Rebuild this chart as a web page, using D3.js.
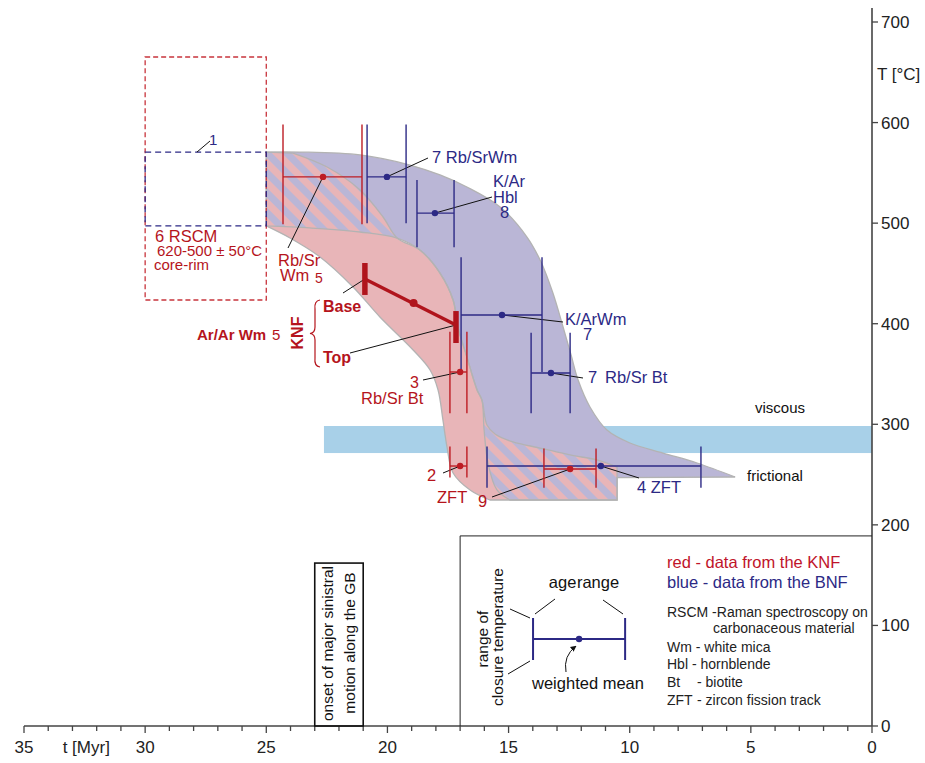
<!DOCTYPE html>
<html><head><meta charset="utf-8">
<script src="https://cdn.jsdelivr.net/npm/d3@7"></script>
<style>html,body{margin:0;padding:0;background:#fff}</style>
</head><body>
<svg id="chart" width="925" height="763"></svg>
<script>
// ---------------- DATA (t in Myr, T in °C) ----------------
const xMajorTicks = [35, 30, 25, 20, 15, 10, 5, 0];
const xMinorTicks = d3.range(0, 36, 1);
const yTicks = [0, 100, 200, 300, 400, 500, 600, 700];

// BNF cooling envelope: upper edge, foot, inner edge  [t, T]
const bnfTop = [
  [25.0,570.7],[23.61,570.7],[21.13,567.8],[19.07,557.8],[17.83,547.9],[16.72,535.9],
  [15.35,516.1],[14.24,486.2],[13.66,461.4],[13.17,430.5],[12.75,396.7],[12.42,368.9],
  [12.13,344.0],[11.64,317.2],[10.94,294.3],[9.99,281.4],[8.63,271.4],[7.22,261.5],[5.65,247.6]
];
const bnfFoot = [[5.65,247.6],[10.52,247.0],[10.52,224.7],[14.94,224.7]];
const bnfInner = [
  [14.94,224.7],[15.48,234.7],[15.85,261.5],[16.01,294.3],[16.10,324.1],[16.30,334.1],
  [16.72,366.9],[17.09,396.7],[17.29,423.6],[17.83,450.4],[18.66,473.3],[19.60,485.2],
  [21.13,491.2],[23.20,495.2],[25.0,497.2]
];
// KNF cooling envelope: right edge, foot, outer edge  [t, T]
const knfRight = [
  [23.90,569.7],[22.49,555.8],[21.13,533.0],[20.18,506.1],[19.60,485.2],
  [18.66,473.3],[17.83,450.4],[17.29,423.6],[17.09,396.7],[16.72,366.9],[16.30,334.1],
  [16.10,324.1],[15.89,299.3],[15.56,290.3],[14.82,282.4],[13.70,276.4],[12.46,269.5],
  [11.35,264.5],[10.52,257.5]
];
const knfFoot = [[10.52,257.5],[10.52,224.7],[15.77,224.7]];
const knfOuter = [
  [15.77,224.7],[16.59,234.7],[17.29,251.6],[17.54,277.4],[17.71,304.3],[17.91,334.1],
  [18.24,354.0],[18.94,373.9],[20.31,406.7],[21.42,436.5],[22.78,466.3],[24.02,485.2],[25.0,497.2]
];
const bandLeft = [[25.0,497.2],[25.0,570.7]];

// KNF (red) age / closure-temperature ranges
const knfBars = [
  {id:"RbSrWm5", ageMin:21.05, ageMax:24.31, age:22.66, tMin:499, tMax:598, temp:546},
  {id:"RbSrBt3", ageMin:16.72, ageMax:17.42, age:17.00, tMin:311, tMax:392, temp:352},
  {id:"ZFT2",    ageMin:16.72, ageMax:17.42, age:17.00, tMin:247, tMax:278, temp:258.5},
  {id:"ZFT9",    ageMin:11.39, ageMax:13.54, age:12.46, tMin:237, tMax:276, temp:255.5}
];
// BNF (blue) age / closure-temperature ranges
const bnfBars = [
  {id:"RbSrWm7", ageMin:19.23, ageMax:20.84, age:20.02, tMin:500, tMax:598, temp:546},
  {id:"KArHbl8", ageMin:17.25, ageMax:18.78, age:18.04, tMin:476, tMax:543, temp:510},
  {id:"KArWm7",  ageMin:13.62, ageMax:16.96, age:15.27, tMin:352, tMax:466, temp:408.7},
  {id:"RbSrBt7", ageMin:12.46, ageMax:14.07, age:13.25, tMin:311, tMax:391, temp:351},
  {id:"ZFT4",    ageMin:7.06,  ageMax:15.89, age:11.19, tMin:237, tMax:278, temp:258.5}
];
// Ar/Ar white mica of the KNF: base and top of the footwall
const arArBase = {age:20.93, tMin:428.6, tMax:460.4, temp:444.5};
const arArTop  = {age:17.17, tMin:380.8, tMax:412.6, temp:398.7};
const arArMean = {age:18.92, temp:420.6};

// RSCM (red dashed) and sample 1 (blue dashed)
const rscmBox = {ageMin:25, ageMax:30, tMin:423.6, tMax:665.2};
const sample1Box = {ageMin:25, ageMax:30, tMin:497.2, tMax:570.7};
// viscous / frictional transition
const transition = {ageMin:0, ageMax:22.62, tMin:271.4, tMax:298.3};
// onset of major sinistral motion along the GB
const onsetBox = {ageMin:21.0, ageMax:23.0, tMin:0, tMax:162};
// legend frame
const legendFrame = {age:17.0, temp:189};
const legendBar = {ageMin:10.19, ageMax:13.99, age:12.09, tMin:65.6, tMax:107.4, temp:86.5};

// ---------------- DRAWING ----------------
const RED = "#bd1c24", RED_T = "#b5141c", NAVY = "#2c2985", PINK = "#e8b5b8", LAV = "#bab6d6";
const FONT = "'Liberation Sans', Arial, Helvetica, sans-serif";
const svg = d3.select("#chart").style("font-family", FONT);
const x = d3.scaleLinear().domain([35, 0]).range([24, 872]);
const y = d3.scaleLinear().domain([0, 700]).range([726, 22]);

const smooth = d3.line().x(d => x(d[0])).y(d => y(d[1])).curve(d3.curveCatmullRom.alpha(0.5));
const straight = d3.line().x(d => x(d[0])).y(d => y(d[1]));
function outline(parts){
  return parts.map(([pts, isSmooth], i) => {
    const s = (isSmooth ? smooth : straight)(pts);
    return i === 0 ? s : "L" + s.slice(1);
  }).join("") + "Z";
}
const bnfPath = outline([[bnfTop,true],[bnfFoot,false],[bnfInner,true],[bandLeft,false]]);
const knfPath = outline([[[[25.0,570.7],[23.90,569.7]],false],[knfRight,true],[knfFoot,false],[knfOuter,true],[bandLeft,false]]);

const defs = svg.append("defs");
const pat = defs.append("pattern").attr("id","hatch").attr("patternUnits","userSpaceOnUse")
  .attr("width",14).attr("height",14).attr("patternTransform","rotate(-45)");
pat.append("rect").attr("width",14).attr("height",14).attr("fill",LAV);
pat.append("rect").attr("width",7).attr("height",14).attr("fill",PINK);
defs.append("clipPath").attr("id","clipBnf").append("path").attr("d", bnfPath);

// transition bar
svg.append("rect").attr("x", x(transition.ageMax)).attr("y", y(transition.tMax))
  .attr("width", x(transition.ageMin) - x(transition.ageMax))
  .attr("height", y(transition.tMin) - y(transition.tMax)).attr("fill", "#a8d0e8");

// bands
svg.append("path").attr("d", bnfPath).attr("fill", LAV);
svg.append("path").attr("d", knfPath).attr("fill", PINK);
svg.append("path").attr("d", knfPath).attr("fill", "url(#hatch)").attr("clip-path","url(#clipBnf)");
svg.append("path").attr("d", bnfPath).attr("fill", "none").attr("stroke","#b3b3b3").attr("stroke-width",1.3);
svg.append("path").attr("d", knfPath).attr("fill", "none").attr("stroke","#b3b3b3").attr("stroke-width",1.3);

// dashed boxes
function box(b, color, dash){
  svg.append("rect").attr("x", x(b.ageMax)).attr("y", y(b.tMax))
    .attr("width", x(b.ageMin) - x(b.ageMax)).attr("height", y(b.tMin) - y(b.tMax))
    .attr("fill","none").attr("stroke",color).attr("stroke-width",1.3).attr("stroke-dasharray",dash);
}
box(rscmBox, "#c8343c", "5,3");
box(sample1Box, NAVY, "6,4");

// axes
const xAxisG = svg.append("g").attr("transform","translate(0,726)");
xAxisG.append("line").attr("x1", x(35)).attr("x2", x(0)).attr("stroke","#444").attr("stroke-width",1.6);
xAxisG.selectAll(".tk").data(xMinorTicks).join("line")
  .attr("x1", d => x(d)).attr("x2", d => x(d)).attr("y1",0)
  .attr("y2", d => d % 5 === 0 ? 7 : 5).attr("stroke","#444").attr("stroke-width",1.3);
xAxisG.selectAll(".lb").data(xMajorTicks).join("text")
  .attr("x", d => x(d)).attr("y", 27).attr("text-anchor","middle")
  .attr("font-size",17).attr("fill","#222").text(d => d);
xAxisG.append("text").attr("x", x(32.43)).attr("y",27).attr("text-anchor","middle")
  .attr("font-size",17).attr("fill","#222").text("t [Myr]");

const yAxisG = svg.append("g").attr("transform","translate(872,0)");
yAxisG.append("line").attr("y1", y(0)).attr("y2", 8).attr("stroke","#444").attr("stroke-width",1.6);
yAxisG.selectAll(".tk").data(yTicks).join("line")
  .attr("x1",0).attr("x2",6).attr("y1", d => y(d)).attr("y2", d => y(d)).attr("stroke","#444").attr("stroke-width",1.3);
yAxisG.selectAll(".lb").data(yTicks).join("text")
  .attr("x", 9).attr("y", d => y(d) + 6).attr("font-size",17).attr("fill","#222").text(d => d);
yAxisG.append("text").attr("x",5).attr("y",80).attr("font-size",17).attr("fill","#222").text("T [°C]");

// legend frame
svg.append("path").attr("d", `M${x(legendFrame.age)},${y(0)}V${y(legendFrame.temp)}H${x(0)}`)
  .attr("fill","none").attr("stroke","#222").attr("stroke-width",1);
// onset box
svg.append("rect").attr("x", x(onsetBox.ageMax)).attr("y", y(onsetBox.tMax))
  .attr("width", x(onsetBox.ageMin) - x(onsetBox.ageMax)).attr("height", y(onsetBox.tMin) - y(onsetBox.tMax))
  .attr("fill","none").attr("stroke","#111").attr("stroke-width",1.6);

function leader(x1, y1, x2, y2){
  svg.append("line").attr("x1",x1).attr("y1",y1).attr("x2",x2).attr("y2",y2)
    .attr("stroke","#111").attr("stroke-width",1);
}
function txt(px, py, s, color, size, opts={}){
  const t = svg.append("text").attr("x",px).attr("y",py).attr("fill",color)
    .attr("font-size",size).text(s);
  if (opts.bold) t.attr("font-weight","bold");
  if (opts.anchor) t.attr("text-anchor",opts.anchor);
  if (opts.rotate) t.attr("transform",`rotate(-90,${px},${py})`);
  return t;
}

const byId = Object.fromEntries([...knfBars, ...bnfBars].map(d => [d.id, d]));
const P = id => [x(byId[id].age), y(byId[id].temp)];
leader(...P("RbSrWm5"), 288, 248);
leader(...P("RbSrWm7"), 428, 158);
leader(...P("KArHbl8"), 492, 197);
leader(...P("KArWm7"), 563, 322);
leader(...P("RbSrBt7"), 583, 378);
leader(...P("RbSrBt3"), 423, 380);
leader(...P("ZFT2"), 443, 473);
leader(...P("ZFT9"), 492, 497);
leader(...P("ZFT4"), 639, 478);
leader(343, 293, x(arArBase.age), y(arArBase.temp));
leader(350, 353, x(arArTop.age), y(arArTop.temp));
leader(x(27.86), y(570.7), 210, 141);

function errBar(g, d, color, w){
  g.append("line").attr("x1",x(d.ageMax)).attr("x2",x(d.ageMin)).attr("y1",y(d.temp)).attr("y2",y(d.temp))
    .attr("stroke",color).attr("stroke-width",w);
  [d.ageMin, d.ageMax].forEach(a => g.append("line").attr("x1",x(a)).attr("x2",x(a))
    .attr("y1",y(d.tMin)).attr("y2",y(d.tMax)).attr("stroke",color).attr("stroke-width",w));
  g.append("circle").attr("cx",x(d.age)).attr("cy",y(d.temp)).attr("r",3.2).attr("fill",color);
}
const barsG = svg.append("g");
bnfBars.forEach(d => errBar(barsG, d, NAVY, 1.4));
knfBars.forEach(d => errBar(barsG, d, RED, 1.4));

// Ar/Ar KNF
svg.append("line").attr("x1",x(arArBase.age)).attr("y1",y(arArBase.temp))
  .attr("x2",x(arArTop.age)).attr("y2",y(arArTop.temp)).attr("stroke","#b0141c").attr("stroke-width",3.5);
[arArBase, arArTop].forEach(d => svg.append("line").attr("x1",x(d.age)).attr("x2",x(d.age))
  .attr("y1",y(d.tMin)).attr("y2",y(d.tMax)).attr("stroke","#b0141c").attr("stroke-width",5.5));
svg.append("circle").attr("cx",x(arArMean.age)).attr("cy",y(arArMean.temp)).attr("r",4).attr("fill","#b0141c");

// labels
txt(432,163,"7 Rb/SrWm",NAVY,16.5);
txt(493,187,"K/Ar",NAVY,16.5); txt(493,203,"Hbl",NAVY,16.5); txt(500,218,"8",NAVY,16.5);
txt(565,325,"K/ArWm",NAVY,16.5); txt(583,340,"7",NAVY,16.5);
txt(588,383,"7",NAVY,16.5); txt(605,383,"Rb/Sr Bt",NAVY,16.5);
txt(637,493,"4 ZFT",NAVY,16.5);
txt(209,145,"1",NAVY,15);

txt(410,388,"3",RED_T,16); txt(361,404,"Rb/Sr Bt",RED_T,16.5);
txt(427,481,"2",RED_T,16.5); txt(437,503,"ZFT",RED_T,16.5);
txt(478,507,"9",RED_T,16.5);
txt(278,266,"Rb/Sr",RED_T,16.5); txt(280,281,"Wm",RED_T,16.5); txt(315,283,"5",RED_T,14);
txt(155,242,"6 RSCM",RED_T,16.5);
txt(157,256,"620-500 ± 50°C",RED_T,15);
txt(154,270,"core-rim",RED_T,15);

txt(197,340,"Ar/Ar Wm",RED_T,15,{bold:true}); txt(272,340,"5",RED_T,15);
txt(303,333,"KNF",RED_T,16,{bold:true,rotate:true,anchor:"middle"});
svg.append("path").attr("d","M320,300 Q314,301 315,309 L315,327 Q315,333 310,333.5 Q315,334 315,340 L315,358 Q314,366 320,367")
  .attr("fill","none").attr("stroke",RED_T).attr("stroke-width",1.2);
txt(323,312,"Base",RED_T,16,{bold:true});
txt(323,363,"Top",RED_T,16,{bold:true});

txt(755,413,"viscous","#111",15);
txt(747,481,"frictional","#111",15);

txt(333,643.5,"onset of major sinistral","#111",15.5,{rotate:true,anchor:"middle"});
txt(355,643,"motion along the GB","#111",15.5,{rotate:true,anchor:"middle"});

// legend
errBar(svg, legendBar, NAVY, 2);
txt(667,568,"red - data from the KNF","#c0142a",16.5);
txt(667,588,"blue - data from the BNF",NAVY,16.5);
txt(667,617,"RSCM -Raman spectroscopy on","#222",14);
txt(713,633,"carbonaceous material","#222",14);
txt(667,652,"Wm - white mica","#222",14);
txt(667,669,"Hbl - hornblende","#222",14);
txt(667,687,"Bt","#222",14); txt(697,687,"- biotite","#222",14);
txt(667,705,"ZFT","#222",14); txt(697,705,"- zircon fission track","#222",14);
txt(584,588,"age range","#111",16.5,{anchor:"middle"}).attr("word-spacing",-4);
txt(588,689,"weighted mean","#111",16.5,{anchor:"middle"});
txt(488,639,"range of","#111",15.5,{rotate:true,anchor:"middle"});
txt(503,637,"closure temperature","#111",15.5,{rotate:true,anchor:"middle"});
leader(555,599,535,614); leader(603,600,623,614);
leader(510,609,530,618); leader(508,674,530,661);
defs.append("marker").attr("id","arr").attr("viewBox","0 0 10 10").attr("refX",9).attr("refY",5)
  .attr("markerWidth",6).attr("markerHeight",6).attr("orient","auto")
  .append("path").attr("d","M0,0 L10,5 L0,10 z").attr("fill","#111");
svg.append("path").attr("d","M566,672 Q563,656 576,646").attr("fill","none")
  .attr("stroke","#111").attr("stroke-width",1).attr("marker-end","url(#arr)");
</script>
</body></html>
